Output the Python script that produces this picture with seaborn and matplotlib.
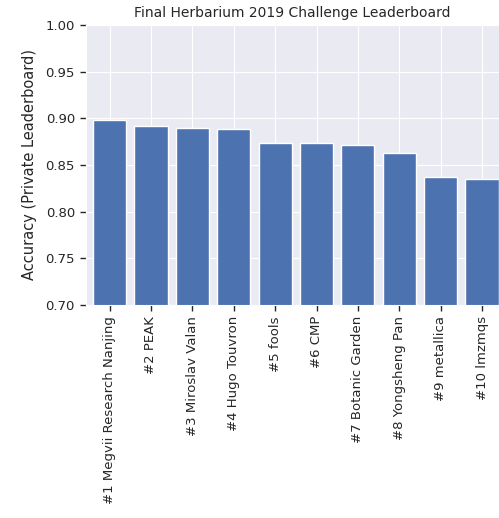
import pandas as pd
import seaborn as sns
import matplotlib
matplotlib.use("Agg")
import matplotlib.pyplot as plt
from matplotlib.lines import TICKDOWN, TICKLEFT

teams = ["#1 Megvii Research Nanjing", "#2 PEAK", "#3 Miroslav Valan",
         "#4 Hugo Touvron", "#5 fools", "#6 CMP", "#7 Botanic Garden",
         "#8 Yongsheng Pan", "#9 metallica", "#10 lmzmqs"]
accuracy = [0.898, 0.892, 0.890, 0.8885, 0.874, 0.874, 0.8714, 0.863, 0.8374, 0.8346]

sns.set_style("darkgrid")

df = pd.DataFrame({"team": teams, "accuracy": accuracy})

fig = plt.figure(figsize=(4.99, 5.18), dpi=100)
ax = fig.add_axes([86 / 499, 1 - 305 / 518, 413 / 499, 280 / 518])
sns.barplot(data=df, x="team", y="accuracy", color="#4C72B0", saturation=1,
            edgecolor="white", linewidth=1, width=0.8, ax=ax)

ax.set_ylim(0.70, 1.00)
ax.set_xlim(-0.57, 9.41)
ax.xaxis.grid(True)
ax.set_title("Final Herbarium 2019 Challenge Leaderboard", fontsize=10, color=".15")
ax.set_ylabel("Accuracy (Private Leaderboard)", fontsize=10.5, labelpad=6, color=".15")
ax.set_xlabel("")
ax.tick_params(axis="both", length=4, width=1, color=".15", pad=4)
plt.setp(ax.get_xticklabels(), rotation=90, fontsize=9.5)
plt.setp(ax.get_yticklabels(), fontsize=9.5)

# tick marks drawn at the axis' own tick positions (darkgrid hides them)
xt = ax.get_xticks()
yt = ax.get_yticks()
yt = yt[(yt >= 0.70 - 1e-9) & (yt <= 1.00 + 1e-9)]
ax.plot(xt, [0] * len(xt), transform=ax.get_xaxis_transform(), ls="",
        marker=TICKDOWN, ms=4, mew=1, color=".15", clip_on=False)
ax.plot([0] * len(yt), yt, transform=ax.get_yaxis_transform(), ls="",
        marker=TICKLEFT, ms=4, mew=1, color=".15", clip_on=False)
ax.set_xlim(-0.57, 9.41)
ax.set_ylim(0.70, 1.00)

fig.savefig("out.png", dpi=100)
